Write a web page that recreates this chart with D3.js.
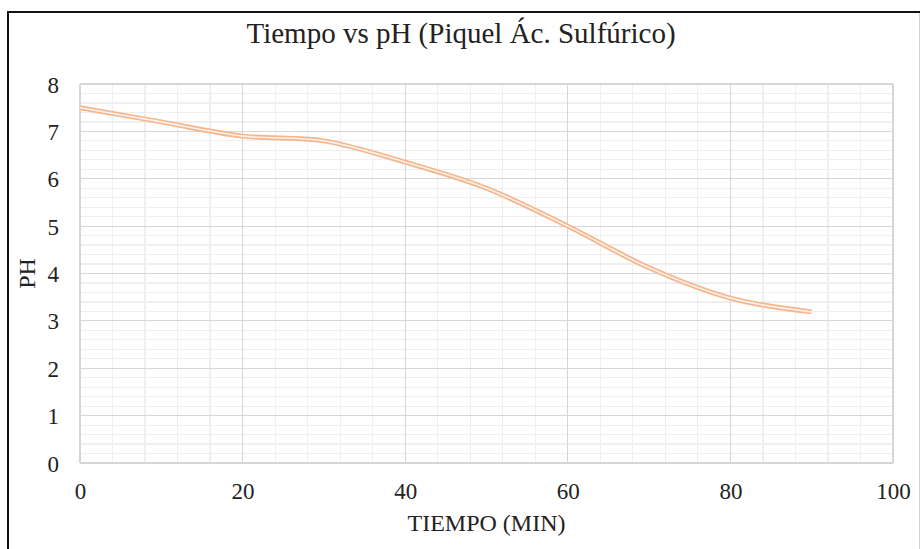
<!DOCTYPE html>
<html><head><meta charset="utf-8">
<script src="https://cdn.jsdelivr.net/npm/d3@7"></script>
<style>body{margin:0;background:#fff}svg{display:block}</style>
</head><body>
<svg id="c" width="920" height="549"></svg>
<script>
const tiempo = [0, 10, 20, 30, 40, 50, 60, 70, 80, 90];
const ph = [7.5, 7.2, 6.9, 6.8, 6.35, 5.8, 5.0, 4.12, 3.48, 3.19];
const xTicks = [0, 20, 40, 60, 80, 100];
const yTicks = [0, 1, 2, 3, 4, 5, 6, 7, 8];
const title = "Tiempo vs pH (Piquel Ác. Sulfúrico)";
const xTitle = "TIEMPO (MIN)";
const yTitle = "PH";

const svg = d3.select("#c");
const W = 920, H = 549;
const m = {left: 80, right: 893, top: 84, bottom: 463};
const x = d3.scaleLinear().domain([0, 100]).range([m.left, m.right]);
const y = d3.scaleLinear().domain([0, 8]).range([m.bottom, m.top]);
const font = "'Liberation Serif','Times New Roman',serif";

svg.append("rect").attr("width", W).attr("height", H).attr("fill", "#fff");

// minor grid
const g = svg.append("g");
g.selectAll("line.mx").data(d3.range(0, 101, 4)).join("line")
  .attr("x1", d => x(d)).attr("x2", d => x(d)).attr("y1", m.top).attr("y2", m.bottom)
  .attr("stroke", "#efefef").attr("stroke-width", 1.2).attr("shape-rendering", "crispEdges");
g.selectAll("line.my").data(d3.range(0, 8.01, 0.2)).join("line")
  .attr("y1", d => y(d)).attr("y2", d => y(d)).attr("x1", m.left).attr("x2", m.right)
  .attr("stroke", "#efefef").attr("stroke-width", 1.2).attr("shape-rendering", "crispEdges");
// major grid
g.selectAll("line.Mx").data(xTicks).join("line")
  .attr("x1", d => x(d)).attr("x2", d => x(d)).attr("y1", m.top).attr("y2", m.bottom)
  .attr("stroke", "#d6d6d6").attr("stroke-width", 1.2).attr("shape-rendering", "crispEdges");
g.selectAll("line.My").data(yTicks).join("line")
  .attr("y1", d => y(d)).attr("y2", d => y(d)).attr("x1", m.left).attr("x2", m.right)
  .attr("stroke", "#d6d6d6").attr("stroke-width", 1.2).attr("shape-rendering", "crispEdges");

// axes (labels only)
const xa = svg.append("g").attr("transform", `translate(0,${m.bottom})`)
  .call(d3.axisBottom(x).tickValues(xTicks).tickSize(0).tickPadding(0).tickFormat(d3.format("d")));
xa.select(".domain").remove();
xa.selectAll("text").attr("dy", null).attr("y", 36).attr("font-family", font).attr("font-size", 23).attr("fill", "#222");
const ya = svg.append("g").attr("transform", `translate(${m.left},0)`)
  .call(d3.axisLeft(y).tickValues(yTicks).tickSize(0).tickPadding(0).tickFormat(d3.format("d")));
ya.select(".domain").remove();
ya.selectAll("text").attr("x", -21).attr("dy", "0.35em").attr("font-family", font).attr("font-size", 23).attr("fill", "#222");

// line
const pts = tiempo.map((t, i) => [t, ph[i]]);
const line = d3.line().x(d => x(d[0])).y(d => y(d[1])).curve(d3.curveCardinal.tension(0));
svg.append("path").attr("d", line(pts)).attr("fill", "none")
  .attr("stroke", "#f5b68d").attr("stroke-width", 5);
svg.append("path").attr("d", line(pts)).attr("fill", "none")
  .attr("stroke", "#fdf1ea").attr("stroke-width", 1.6);

// titles
svg.append("text").attr("x", 461).attr("y", 43).attr("text-anchor", "middle")
  .attr("font-family", font).attr("font-size", 29).attr("fill", "#222").text(title);
svg.append("text").attr("x", (m.left + m.right) / 2).attr("y", 531).attr("text-anchor", "middle")
  .attr("font-family", font).attr("font-size", 24).attr("fill", "#222").text(xTitle);
svg.append("text").attr("transform", `translate(35,${(m.top + m.bottom) / 2}) rotate(-90)`)
  .attr("text-anchor", "middle").attr("font-family", font).attr("font-size", 24).attr("fill", "#222").text(yTitle);

// frame
svg.append("line").attr("x1", 7).attr("x2", W).attr("y1", 12).attr("y2", 12).attr("stroke", "#111").attr("stroke-width", 2);
svg.append("line").attr("x1", 8).attr("x2", 8).attr("y1", 11).attr("y2", H).attr("stroke", "#111").attr("stroke-width", 2);
svg.append("line").attr("x1", 919.5).attr("x2", 919.5).attr("y1", 13).attr("y2", H).attr("stroke", "#d0d0d0").attr("stroke-width", 1);
</script>
</body></html>
